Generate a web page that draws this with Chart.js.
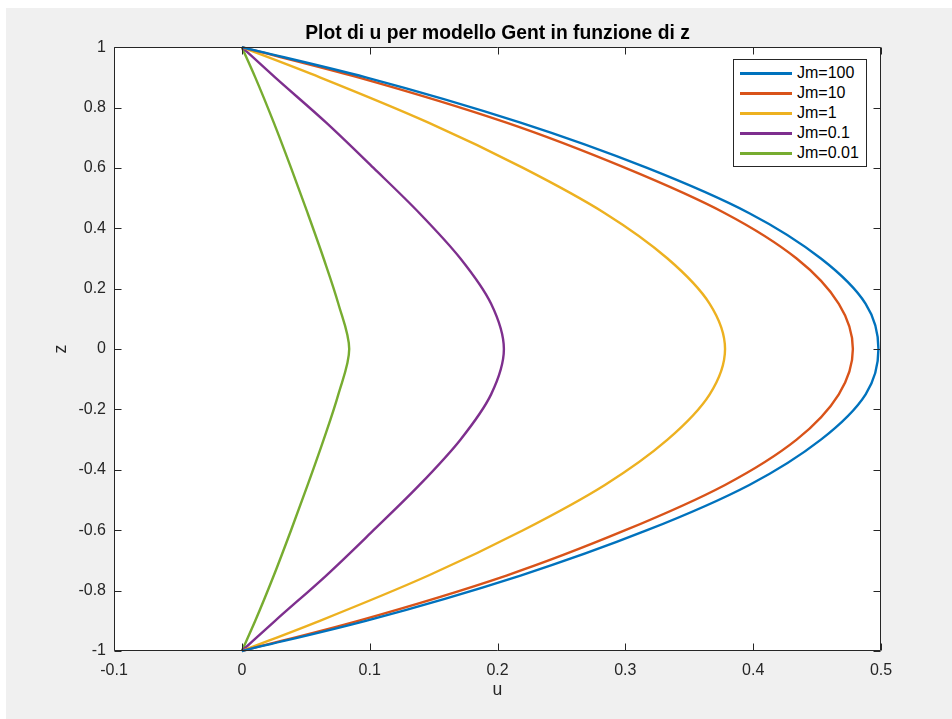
<!DOCTYPE html>
<html>
<head>
<meta charset="utf-8">
<script src="https://cdn.jsdelivr.net/npm/chart.js@4.4.1/dist/chart.umd.min.js"></script>
<style>
  body { margin: 0; background: #fff; }
  #figura { position: absolute; left: 6px; top: 8px; width: 946px; height: 711px; background: #f0f0f0; }
  #grafico { position: absolute; left: 0; top: 0; }
  #leyenda { position: absolute; left: 727px; top: 51px; width: 134px; height: 108px; box-sizing: border-box;
             border: 1px solid #262626; background: #fff; font: 16px "Liberation Sans", Arial, sans-serif; color: #000; }
  .fila { position: absolute; left: 0; height: 20px; display: flex; align-items: center; white-space: nowrap; }
  .linea { margin-left: 6px; width: 52px; height: 3px; }
  .texto { margin-left: 5px; }
</style>
</head>
<body>
<div id="figura">
  <canvas id="grafico" width="946" height="711"></canvas>
  <div id="leyenda"></div>
</div>
<script>
// valori (z da -1 a 1)
const zValori = [-1, -0.9, -0.75, -0.6, -0.45, -0.3, -0.15, 0, 0.15, 0.3, 0.45, 0.6, 0.75, 0.9, 1];

const uJm100  = [0, 0.097, 0.218, 0.317, 0.397, 0.453, 0.488, 0.498, 0.488, 0.453, 0.397, 0.317, 0.218, 0.097, 0];
const uJm10   = [0, 0.091, 0.207, 0.300, 0.378, 0.434, 0.467, 0.478, 0.467, 0.434, 0.378, 0.300, 0.207, 0.091, 0];
const uJm1    = [0, 0.061, 0.146, 0.220, 0.284, 0.333, 0.366, 0.378, 0.366, 0.333, 0.284, 0.220, 0.146, 0.061, 0];
const uJm01   = [0, 0.026, 0.066, 0.103, 0.139, 0.171, 0.195, 0.205, 0.195, 0.171, 0.139, 0.103, 0.066, 0.026, 0];
const uJm001  = [0, 0.0105, 0.025, 0.0385, 0.0515, 0.064, 0.0755, 0.084, 0.0755, 0.064, 0.0515, 0.0385, 0.025, 0.0105, 0];

const etichette = ["Jm=100", "Jm=10", "Jm=1", "Jm=0.1", "Jm=0.01"];
const colori = ["#0072BD", "#D95319", "#EDB120", "#7E2F8E", "#77AC30"];
const serie = [uJm100, uJm10, uJm1, uJm01, uJm001];

const xTickValori = [-0.1, 0, 0.1, 0.2, 0.3, 0.4, 0.5];
const xTickEtichette = ["-0.1", "0", "0.1", "0.2", "0.3", "0.4", "0.5"];
const yTickValori = [-1, -0.8, -0.6, -0.4, -0.2, 0, 0.2, 0.4, 0.6, 0.8, 1];
const yTickEtichette = ["-1", "-0.8", "-0.6", "-0.4", "-0.2", "0", "0.2", "0.4", "0.6", "0.8", "1"];

const FONT = '"Liberation Sans", Arial, sans-serif';
const COLORE_ASSI = "#262626";

// sfondo bianco, cornice e tacche verso l'interno (stile MATLAB)
const cornice = {
  id: "cornice",
  beforeDatasetsDraw(chart) {
    const { ctx, chartArea: a } = chart;
    ctx.save();
    ctx.fillStyle = "#fff";
    ctx.fillRect(a.left, a.top, a.width, a.height);
    ctx.restore();
  },
  afterDatasetsDraw(chart) {
    const { ctx, chartArea: a, scales } = chart;
    const L = Math.round(a.left) + 0.5, R = Math.round(a.right) - 0.5;
    const T = Math.round(a.top) + 0.5, B = Math.round(a.bottom) - 0.5;
    const lung = 7;
    ctx.save();
    ctx.strokeStyle = COLORE_ASSI;
    ctx.lineWidth = 1;
    ctx.beginPath();
    xTickValori.forEach(v => {
      const x = Math.round(scales.x.getPixelForValue(v)) + 0.5;
      ctx.moveTo(x, B); ctx.lineTo(x, B - lung);
      ctx.moveTo(x, T); ctx.lineTo(x, T + lung);
    });
    yTickValori.forEach(v => {
      const y = Math.round(scales.y.getPixelForValue(v)) + 0.5;
      ctx.moveTo(L, y); ctx.lineTo(L + lung, y);
      ctx.moveTo(R, y); ctx.lineTo(R - lung, y);
    });
    ctx.rect(L, T, R - L, B - T);
    ctx.stroke();
    ctx.restore();
  }
};

// u in funzione di z: z e' l'asse indice, curva monotona in z
const datasets = serie.map((u, i) => ({
  label: etichette[i],
  data: u.map((val, j) => ({ x: val, y: zValori[j] })),
  borderColor: colori[i],
  backgroundColor: colori[i],
  borderWidth: 2.4,
  pointRadius: 0,
  cubicInterpolationMode: "monotone",
  capBezierPoints: false,
  clip: false
}));

new Chart(document.getElementById("grafico"), {
  type: "line",
  data: { datasets: datasets },
  plugins: [cornice],
  options: {
    indexAxis: "y",
    responsive: false,
    animation: false,
    layout: { padding: { left: 0, right: 71, top: 0, bottom: 0 } },
    plugins: {
      legend: { display: false },
      tooltip: { enabled: false },
      title: {
        display: true,
        text: "Plot di u per modello Gent in funzione di z",
        fullSize: false,
        color: "#000",
        font: { family: FONT, size: 19.3, weight: "bold" },
        padding: { top: 14, bottom: 2 }
      }
    },
    scales: {
      x: {
        type: "linear",
        min: -0.1,
        max: 0.5,
        afterBuildTicks: s => { s.ticks = xTickValori.map(v => ({ value: v })); },
        afterFit: s => { s.height = 68; },
        ticks: {
          autoSkip: false,
          maxRotation: 0,
          padding: 10,
          color: COLORE_ASSI,
          font: { family: FONT, size: 16 },
          callback: (v, i) => xTickEtichette[i]
        },
        grid: { display: false, drawTicks: false, tickLength: 0 },
        border: { display: false },
        title: {
          display: true,
          text: "u",
          color: COLORE_ASSI,
          font: { family: FONT, size: 17.6 },
          padding: { top: 0, bottom: 18 }
        }
      },
      y: {
        type: "linear",
        min: -1,
        max: 1,
        afterBuildTicks: s => { s.ticks = yTickValori.map(v => ({ value: v })); },
        afterFit: s => { s.width = 108; },
        ticks: {
          autoSkip: false,
          padding: 8,
          color: COLORE_ASSI,
          font: { family: FONT, size: 16 },
          callback: (v, i) => yTickEtichette[i]
        },
        grid: { display: false, drawTicks: false, tickLength: 0 },
        border: { display: false },
        title: {
          display: true,
          text: "z",
          color: COLORE_ASSI,
          font: { family: FONT, size: 17.6 },
          padding: { top: 45, bottom: 0 }
        }
      }
    }
  }
});

// legenda dentro l'area del grafico
const leyenda = document.getElementById("leyenda");
etichette.forEach((et, i) => {
  const fila = document.createElement("div");
  fila.className = "fila";
  fila.style.top = Math.round(2.7 + 20.15 * i) + "px";
  fila.innerHTML = '<span class="linea" style="background:' + colori[i] + '"></span><span class="texto">' + et + '</span>';
  leyenda.appendChild(fila);
});
</script>
</body>
</html>
